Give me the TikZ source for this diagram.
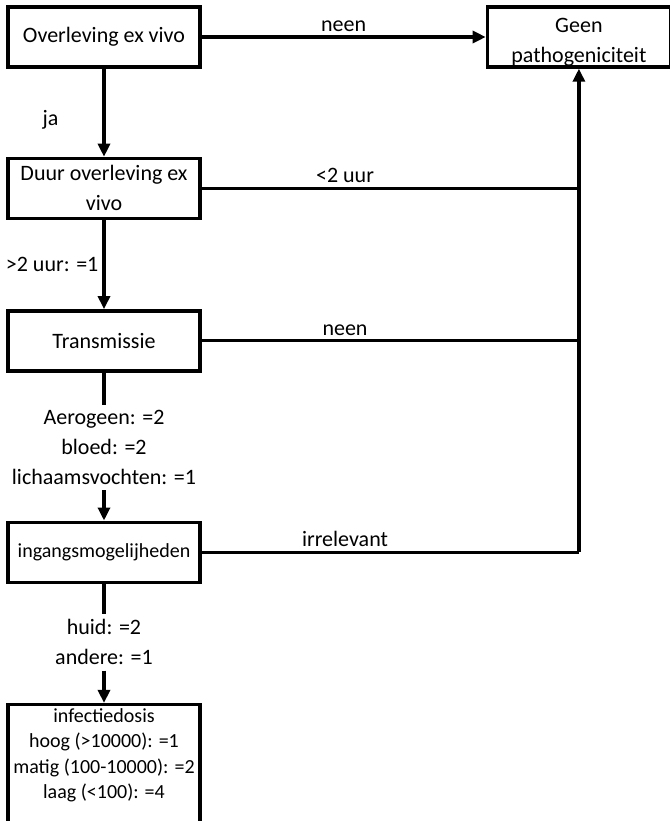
\documentclass[tikz,border=0pt]{standalone}
\usepackage{fontspec}
\setmainfont{Carlito}
\usetikzlibrary{positioning,arrows.meta}

\begin{document}
\begin{tikzpicture}[x=0.5pt,y=-0.5pt,>={Triangle[width=6pt,length=6.5pt]},line width=1.6pt,
  box/.style={draw,rectangle,line width=1.7pt,minimum width=96pt,minimum height=30pt,align=center,inner sep=2pt,font=\fontsize{11}{15}\selectfont},
  lbl/.style={font=\fontsize{11}{15}\selectfont,align=center,inner sep=2pt}]
  \clip (0,0) rectangle (670,821);

  \node[box] (alive) at (104,37) {Overleving ex vivo};
  \node[box, minimum width=91.5pt, text depth=0pt, right=142pt of alive] (none) {\rule{0pt}{10pt}Geen\\pathogeniciteit};
  \node[box, below=44pt of alive] (dur) {Duur overleving ex\\vivo};
  \node[box, below=44.5pt of dur] (trans) {Transmissie};
  \node[lbl, below=16pt of trans] (translbl) {Aerogeen: =2\\bloed: =2\\lichaamsvochten: =1};
  \node[box, below=74pt of trans, font=\fontsize{10}{12}\selectfont] (entry) {ingangsmogelijheden};
  \node[lbl, below=15pt of entry] (entrylbl) {huid: =2\\andere: =1};
  \node[box, below=59.5pt of entry, font=\fontsize{10}{12.75}\selectfont, text depth=40pt] (dose)
    {infectiedosis\\hoog (>10000): =1\\matig (100-10000): =2\\laag (<100): =4};

  % junctions on the trunk
  \coordinate (j2) at (none.south |- dur.east);
  \coordinate (j3) at (none.south |- trans.east);
  \coordinate (j4) at (none.south |- entry.east);

  \draw[->] (alive) -- node[lbl, above] {neen} (none);
  \draw[->] (alive) -- node[lbl, left, pos=0.58, xshift=-20pt] {ja} (dur);
  \draw[->] (dur) -- node[lbl, left] {>2 uur: =1} (trans);
  \draw (trans) -- (translbl);
  \draw[->] (translbl) -- (entry);
  \draw (entry) -- (entrylbl);
  \draw[->] (entrylbl) -- (dose);

  \draw (dur) -- node[lbl, above, pos=0.38] {<2 uur} (j2);
  \draw (trans) -- node[lbl, above, pos=0.38] {neen} (j3);
  \draw (entry) -- node[lbl, above, pos=0.38] {irrelevant} (j4);
  \draw[->] (j4) -- (none);
\end{tikzpicture}
\end{document}
